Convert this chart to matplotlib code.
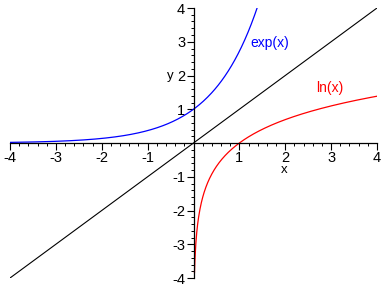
import matplotlib
matplotlib.use('Agg')
import matplotlib.pyplot as plt
import numpy as np
from matplotlib.ticker import MultipleLocator

# --- Data ---
x_exp = np.linspace(-4, np.log(4), 300)
y_exp = np.exp(x_exp)
x_ln = np.linspace(0.0215, 4, 400)
y_ln = np.log(x_ln)
x_id = np.array([-4, 4])
y_id = np.array([-4, 4])

tick_vals = [-4, -3, -2, -1, 1, 2, 3, 4]
tick_labels = ['-4', '-3', '-2', '-1', '1', '2', '3', '4']

plt.rcParams['font.family'] = ['Liberation Sans', 'DejaVu Sans']

fig = plt.figure(figsize=(3.88, 2.88), dpi=100)
ax = fig.add_axes([10 / 388, 1 - 278 / 288, 367 / 388, 270 / 288])

ax.plot(x_exp, y_exp, color='#0000ff', lw=0.9)
ax.plot(x_ln, y_ln, color='#ff0000', lw=0.9)
ax.plot(x_id, y_id, color='black', lw=0.8)

ax.set_xlim(-4, 4)
ax.set_ylim(-4, 4)

# Axes through the origin
ax.spines['left'].set_position(('data', 0))
ax.spines['bottom'].set_position(('data', 0))
ax.spines['right'].set_visible(False)
ax.spines['top'].set_visible(False)
ax.spines['left'].set_linewidth(0.9)
ax.spines['bottom'].set_linewidth(0.9)

ax.set_xticks(tick_vals)
ax.set_xticklabels(tick_labels)
ax.set_yticks(tick_vals)
ax.set_yticklabels(tick_labels)
ax.xaxis.set_minor_locator(MultipleLocator(0.2))
ax.yaxis.set_minor_locator(MultipleLocator(0.2))
ax.tick_params(which='major', direction='out', length=5, width=0.8,
               labelsize=10.5, pad=1)
ax.tick_params(which='minor', direction='out', length=2.5, width=0.7)

ax.text(1.67, 2.96, 'exp(x)', color='#0000ff', fontsize=10,
        ha='center', va='center')
ax.text(2.98, 1.63, 'ln(x)', color='#ff0000', fontsize=10,
        ha='center', va='center')
ax.text(1.98, -0.8, 'x', fontsize=9.5, ha='center', va='center')
ax.text(-0.5, 2.0, 'y', fontsize=9.5, ha='center', va='center')

fig.savefig('out.png', dpi=100)
